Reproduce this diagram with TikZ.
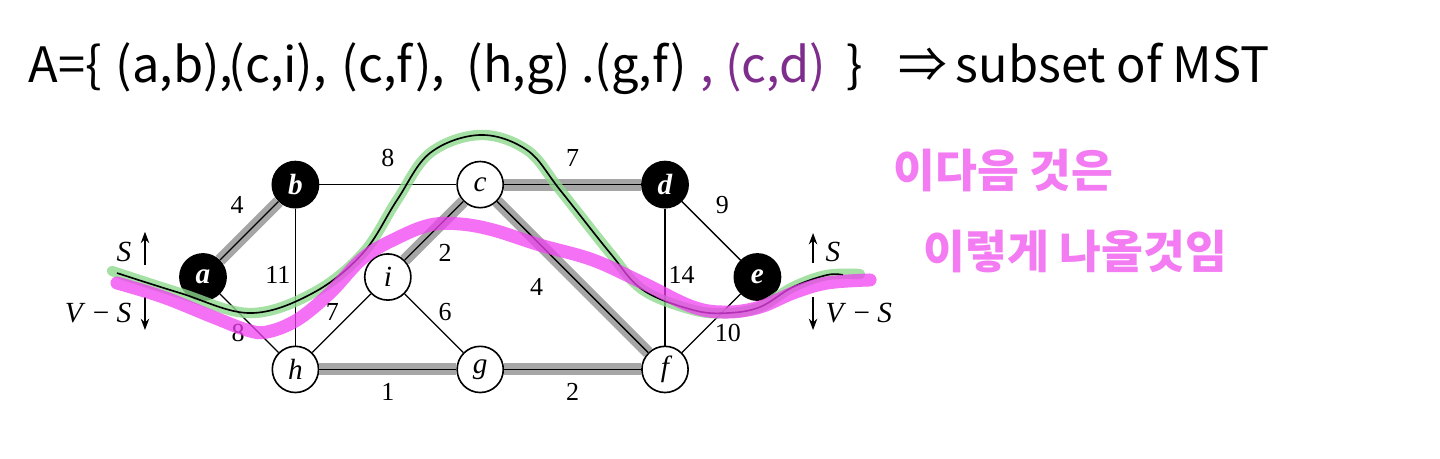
\documentclass[tikz,border=0pt]{standalone}
\usepackage{fontspec}
\setmainfont{Liberation Serif}
\newfontfamily\handfont{Noto Sans CJK KR}
\definecolor{mstgray}{HTML}{A6A6A6}
\definecolor{cutgreen}{HTML}{8ED88E}
\definecolor{hlpink}{HTML}{F040F0}
\definecolor{notepink}{HTML}{F37CF2}
\definecolor{plum}{HTML}{7E2D8C}
\usetikzlibrary{arrows.meta}

\begin{document}
\begin{tikzpicture}[
  vtx/.style={circle, draw, line width=0.5pt, fill=white, minimum size=5mm, inner sep=0pt, font=\fontsize{9}{10}\selectfont\itshape},
  blackvtx/.style={vtx, fill=black, text=white, font=\fontsize{9}{10}\selectfont\bfseries\itshape},
  mst/.style={line width=3.7pt, mstgray},
  lbl/.style={font=\fontsize{8}{9}\selectfont, inner sep=0pt},
  sidelbl/.style={font=\fontsize{9}{10}\selectfont, inner sep=0pt},
  cutarrow/.style={-{Stealth[length=3.5pt, width=2.6pt]}, line width=0.5pt},
  handtext/.style={font=\fontsize{15}{18}\selectfont\handfont, anchor=base west, inner sep=0pt},
  note/.style={font=\fontsize{14}{17}\selectfont\handfont\bfseries, text=notepink, anchor=west, inner sep=0pt}
]
\useasboundingbox (-2.197,-1.959) rectangle (13.387,2.998);

% handwritten set A
\node[handtext] (t1) at (-1.894,2.11) {A=\{};
\node[handtext] (t2) at (-0.952,2.11) {(a,b),};
\node[handtext] (t3) at (0.271,2.11) {(c,i),};
\node[handtext] (t4) at (1.494,2.11) {(c,f),};
\node[handtext] (t5) at (2.846,2.11) {(h,g) .};
\node[handtext] (t6) at (4.232,2.11) {(g,f)};
\node[handtext, text=plum] (t7) at (5.379,2.11) {, (c,d)};
\node[handtext] (t8) at (6.959,2.11) {\}};
\node[handtext] (t9) at (7.522,2.11) {⇒};
\node[handtext] (t10) at (8.139,2.11) {subset of MST};

% vertices
\node[blackvtx] (a) at (0,0) {a};
\node[blackvtx] (b) at (1,1) {b};
\node[vtx] (c) at (3,1) {c};
\node[blackvtx] (d) at (5,1) {d};
\node[blackvtx] (e) at (6,0) {e};
\node[vtx] (f) at (5,-1) {f};
\node[vtx] (g) at (3,-1) {g};
\node[vtx] (h) at (1,-1) {h};
\node[vtx] (i) at (2,0) {i};

% edges of A (shaded)
\draw[mst] (a) -- (b);
\draw[mst] (c) -- (i);
\draw[mst] (c) -- (f);
\draw[mst] (h) -- (g);
\draw[mst] (g) -- (f);
\draw[mst] (c) -- (d);

% weighted edges
\draw (a) -- node[lbl, xshift=-1.3mm, yshift=2.8mm] {4} (b);
\draw (b) -- node[lbl, yshift=2.9mm] {8} (c);
\draw (c) -- node[lbl, yshift=2.9mm] {7} (d);
\draw (d) -- node[lbl, xshift=1.2mm, yshift=2.8mm] {9} (e);
\draw (b) -- node[lbl, xshift=-1.9mm, yshift=0.2mm] {11} (h);
\draw (i) -- node[lbl, xshift=1.2mm, yshift=-2.4mm] {2} (c);
\draw (h) -- node[lbl, xshift=-1.0mm, yshift=1.2mm] {7} (i);
\draw (i) -- node[lbl, xshift=1.2mm, yshift=1.2mm] {6} (g);
\draw (c) -- node[lbl, xshift=-3.9mm, yshift=-1.1mm] {4} (f);
\draw (d) -- node[lbl, xshift=1.8mm, yshift=0.2mm] {14} (f);
\draw (a) -- node[lbl, xshift=-1.2mm, yshift=-1.1mm] {8} (h);
\draw (e) -- node[lbl, xshift=1.8mm, yshift=-1.1mm] {10} (f);
\draw (h) -- node[lbl, yshift=-2.45mm] {1} (g);
\draw (g) -- node[lbl, yshift=-2.45mm] {2} (f);

% the cut (S, V-S)
\draw[cutgreen, line width=3.2pt, opacity=0.8, line cap=round] plot[smooth, tension=0.6] coordinates {(-0.985,0.065) (-0.249,-0.173) (0.509,-0.390) (1.190,-0.173) (1.732,0.260) (2.100,0.833) (2.457,1.342) (2.998,1.537) (3.506,1.374) (3.864,0.942) (4.405,0.260) (4.762,-0.141) (5.303,-0.357) (5.671,-0.390) (6.028,-0.325) (6.385,-0.108) (6.753,0.022) (7.110,0.032)};
\draw[line width=0.5pt] plot[smooth, tension=0.6] coordinates {(-0.931,0.043) (-0.249,-0.173) (0.509,-0.390) (1.190,-0.173) (1.732,0.260) (2.100,0.833) (2.457,1.342) (2.998,1.537) (3.506,1.374) (3.864,0.942) (4.405,0.260) (4.762,-0.141) (5.303,-0.357) (5.671,-0.390) (6.028,-0.325) (6.385,-0.108) (6.753,0.022) (6.926,0.022)};

\node[sidelbl, anchor=east] (sl) at (-0.77,0.27) {\textit{S}};
\node[sidelbl, anchor=east] (vsl) at (-0.77,-0.39) {\textit{V} − \textit{S}};
\draw[cutarrow] (-0.628,0.13) -- (-0.628,0.49);
\draw[cutarrow] (-0.628,-0.216) -- (-0.628,-0.574);
\node[sidelbl, anchor=west] (sr) at (6.73,0.27) {\textit{S}};
\node[sidelbl, anchor=west] (vsr) at (6.73,-0.39) {\textit{V} − \textit{S}};
\draw[cutarrow] (6.602,0.152) -- (6.602,0.476);
\draw[cutarrow] (6.602,-0.216) -- (6.602,-0.574);

% pink marker: the next cut
\draw[hlpink, line width=4pt, opacity=0.75, line cap=round] plot[smooth, tension=0.6] coordinates {(-0.931,-0.065) (-0.433,-0.216) (0.108,-0.433) (0.476,-0.574) (0.693,-0.595) (1.017,-0.465) (1.374,-0.173) (1.732,0.206) (2.100,0.422) (2.457,0.563) (2.781,0.574) (3.139,0.509) (3.647,0.346) (4.221,0.184) (4.762,-0.065) (5.303,-0.325) (5.671,-0.379) (6.028,-0.325) (6.385,-0.173) (6.753,-0.065) (7.219,-0.032)};

\node[note] (k1) at (7.468,1.158) {이다음 것은};
\node[note] (k2) at (7.792,0.271) {이렇게 나올것임};
\end{tikzpicture}
\end{document}
